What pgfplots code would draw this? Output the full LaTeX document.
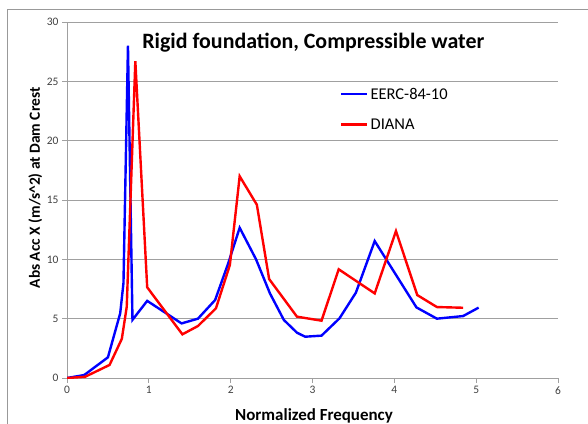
\documentclass[border=0pt]{standalone}
\usepackage{pgfplots}
\pgfplotsset{compat=1.18}
\usepackage{fontspec}
\setmainfont{Carlito}
\definecolor{gridc}{RGB}{160,160,160}
\definecolor{tickc}{RGB}{64,64,64}
\begin{document}
\begin{tikzpicture}[x=1bp,y=1bp]
\useasboundingbox (0,0) rectangle (588,423);
\draw[gray!80,line width=0.8bp] (7,-10) -- (7,414) -- (600,414);
\begin{axis}[
  at={(67bp,45bp)}, anchor=south west,
  scale only axis, width=491bp, height=356bp,
  xmin=0, xmax=6, ymin=0, ymax=30,
  xtick={0,1,...,6}, ytick={0,5,...,30},
  axis x line*=bottom, axis y line*=left,
  axis line style={gridc, line width=0.8bp, -},
  ymajorgrids, grid style={gridc, line width=0.9bp},
  tick style={gridc, line width=0.8bp},
  tick align=outside, major tick length=5bp,
  ticklabel style={font=\fontsize{11.5}{13}\selectfont, text=tickc},
  /pgf/number format/assume math mode=true,
  xlabel={\textbf{Normalized Frequency}},
  ylabel={\textbf{Abs Acc X (m/s\textasciicircum 2) at Dam Crest}},
  xlabel style={font=\fontsize{17}{19}\selectfont, at={(axis description cs:0.503,0)}, anchor=base, yshift=-42bp},
  ylabel style={font=\fontsize{15.5}{17}\selectfont, at={(axis description cs:-0.055,0.534)}, anchor=base},
  title={\textbf{Rigid foundation, Compressible water}},
  title style={font=\fontsize{22}{24}\selectfont, at={(axis cs:3.01,28.3)}, anchor=base, yshift=-12bp},
  legend style={at={(0.55,0.827)}, anchor=north west, draw=none, fill=none,
    font=\fontsize{16.5}{18}\selectfont, row sep=14bp,
    legend cell align=left},
  legend image code/.code={\draw[#1] (0bp,0bp) -- (26bp,0bp);},
]
\addplot[blue, line width=2.4bp] coordinates {
(0,0) (0.21,0.25) (0.50,1.74) (0.65,5.45) (0.69,8.0) (0.745,28.0) (0.80,4.9)
(0.98,6.5) (1.40,4.6) (1.60,5.0) (1.81,6.57) (1.97,9.66) (2.11,12.66)
(2.31,10.0) (2.48,7.13) (2.65,4.89) (2.81,3.82) (2.91,3.48) (3.11,3.57)
(3.33,5.03) (3.53,7.19) (3.76,11.54) (4.27,5.95) (4.52,5.0) (4.84,5.22) (5.03,5.93)
};
\addlegendentry{EERC-84-10}
\addplot[red, line width=2.4bp] coordinates {
(0,0) (0.22,0.1) (0.52,1.1) (0.67,3.3) (0.73,6.0) (0.835,26.7) (0.98,7.64)
(1.41,3.68) (1.60,4.38) (1.82,5.87) (1.99,9.52) (2.11,17.0) (2.32,14.6)
(2.47,8.34) (2.81,5.17) (3.11,4.83) (3.32,9.16) (3.76,7.13) (4.02,12.38)
(4.28,6.99) (4.52,5.98) (4.84,5.92)
};
\addlegendentry{DIANA}
\end{axis}
\end{tikzpicture}
\end{document}
